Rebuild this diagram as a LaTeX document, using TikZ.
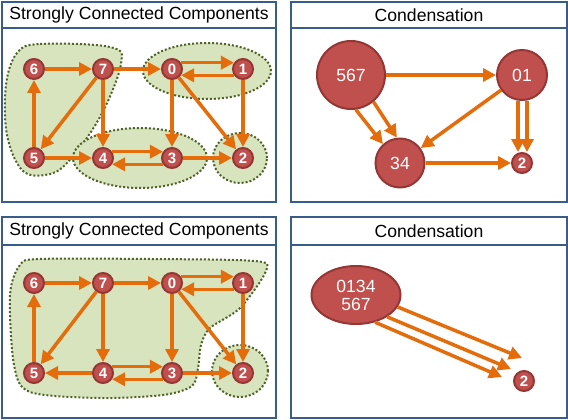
\documentclass[tikz,border=0pt]{standalone}
\usepackage{fontspec}
\setmainfont{Liberation Sans}
\usetikzlibrary{arrows.meta,calc,shapes.geometric}
\definecolor{framebl}{HTML}{385D8A}
\definecolor{nodered}{HTML}{C0504D}
\definecolor{nodeedge}{HTML}{943634}
\definecolor{arroworg}{HTML}{E46C0A}
\definecolor{hullgr}{HTML}{D7E4BD}
\definecolor{hulldot}{HTML}{4F6228}

\begin{document}
\begin{tikzpicture}[x=1pt, y=-1pt,
		frame/.style={draw=framebl, line width=1.5pt},
		titlebar/.style={rectangle, draw=framebl, line width=1.5pt, fill=white, inner sep=0pt, minimum height=26pt, font=\fontsize{17.6}{20}\selectfont},
		vert/.style={circle, draw=nodeedge, line width=2pt, fill=nodered, inner sep=0pt, minimum size=20pt, text=white, font=\fontsize{15}{15}\selectfont\bfseries},
		bigvert/.style={vert, font=\fontsize{17.6}{20}\selectfont},
		arrow/.style={-{Triangle[length=13pt, width=13pt]}, draw=arroworg, line width=3.5pt},
		hull/.style={fill=hullgr, draw=hulldot, line width=2pt, dash pattern=on 2pt off 2pt}]
		
		\useasboundingbox (0,0) rectangle (568,420);
		
		% top left: strongly connected components
		\draw[frame] (2,2) rectangle (276,202);
		\node[titlebar, minimum width=274pt] (title1) at (139,15) {Strongly Connected Components};
		
		\draw[hull] plot[smooth cycle, tension=0.6] coordinates {(17,53) (40,44) (110,47) (121,64) (100,117) (67,163) (45,175) (22,170) (7,135) (6,85)};
		\draw[hull] (207,71) ellipse [x radius=64pt, y radius=28pt];
		\draw[hull] (140,158) ellipse [x radius=67pt, y radius=30pt];
		\draw[hull] (240,158) ellipse [x radius=27pt, y radius=25pt];
		
		\node[vert] (a6) at (34,69) {6};
		\node[vert] (a7) at (103,69) {7};
		\node[vert] (a0) at (172,69) {0};
		\node[vert] (a1) at (243,69) {1};
		\node[vert] (a5) at (34,158) {5};
		\node[vert] (a4) at (103,158) {4};
		\node[vert] (a3) at (172,158) {3};
		\node[vert] (a2) at (243,158) {2};
		
		\draw[arrow] (a6) -- (a7);
		\draw[arrow] (a7) -- (a0);
		\draw[arrow] (a0.35) -- (a1.145);
		\draw[arrow] (a1.-145) -- (a0.-35);
		\draw[arrow] (a7) -- (a5);
		\draw[arrow] (a7) -- (a4);
		\draw[arrow] (a0) -- (a3);
		\draw[arrow] (a0) -- (a2);
		\draw[arrow] (a1) -- (a2);
		\draw[arrow] (a5) -- (a6);
		\draw[arrow] (a5) -- (a4);
		\draw[arrow] (a4.35) -- (a3.145);
		\draw[arrow] (a3.-145) -- (a4.-35);
		\draw[arrow] (a3) -- (a2);
		
		% top right: condensation
		\draw[frame] (291,2) rectangle (567,202);
		\node[titlebar, minimum width=276pt] (title2) at (429,15) {Condensation};
		
		\node[bigvert, minimum size=68pt] (b567) at (351,75) {567};
		\node[bigvert, minimum size=50pt] (b01) at (522,75) {01};
		\node[bigvert, minimum size=49pt] (b34) at (400,163) {34};
		\node[vert] (b2) at (522,163) {2};
		
		\draw[arrow] (b567) -- (b01);
		\draw[arrow] (b567.-82) -- (b34.132);
		\draw[arrow] (b567.-50) -- (b34.97);
		\draw[arrow] (b01) -- (b34);
		\draw[arrow] ([xshift=-4pt]b01.south) -- ([xshift=-4pt]b2.north);
		\draw[arrow] ([xshift=5pt]b01.south) -- ([xshift=5pt]b2.north);
		\draw[arrow] (b34) -- (b2);
		
		% bottom left: strongly connected components
		\draw[frame] (2,217) rectangle (276,418);
		\node[titlebar, minimum width=274pt, minimum height=28pt] (title3) at (139,231) {Strongly Connected Components};
		
		\draw[hull] plot[smooth cycle, tension=0.5] coordinates {(20,265) (40,259) (150,259) (255,261) (266,271) (240,308) (210,328) (201,345) (198,368) (192,386) (163,395) (100,398) (30,392) (14,365) (10,295)};
		\draw[hull] (240,371) ellipse [x radius=28pt, y radius=26pt];
		
		\node[vert] (c6) at (34,283) {6};
		\node[vert] (c7) at (103,283) {7};
		\node[vert] (c0) at (172,283) {0};
		\node[vert] (c1) at (243,283) {1};
		\node[vert] (c5) at (34,373) {5};
		\node[vert] (c4) at (103,373) {4};
		\node[vert] (c3) at (172,373) {3};
		\node[vert] (c2) at (243,373) {2};
		
		\draw[arrow] (c6) -- (c7);
		\draw[arrow] (c7) -- (c0);
		\draw[arrow] (c0.35) -- (c1.145);
		\draw[arrow] (c1.-145) -- (c0.-35);
		\draw[arrow] (c7) -- (c5);
		\draw[arrow] (c7) -- (c4);
		\draw[arrow] (c0) -- (c3);
		\draw[arrow] (c0) -- (c2);
		\draw[arrow] (c1) -- (c2);
		\draw[arrow] (c5) -- (c6);
		\draw[arrow] (c4) -- (c5);
		\draw[arrow] (c4.35) -- (c3.145);
		\draw[arrow] (c3.-145) -- (c4.-35);
		\draw[arrow] (c3) -- (c2);
		
		% bottom right: condensation
		\draw[frame] (291,217) rectangle (567,418);
		\node[titlebar, minimum width=276pt, minimum height=28pt] (title4) at (429,231) {Condensation};
		
		\node[bigvert, ellipse, minimum width=89pt, minimum height=58pt, align=center, font=\fontsize{17.6}{18}\selectfont] (d0134) at (356,295) {0134\\567};
		\node[vert] (d2) at (524,381) {2};
		
		\coordinate (d2a) at (522,358);
		\coordinate (d2b) at (511,369);
		\coordinate (d2c) at (502,377);
		\draw[arrow] (d0134.-16) -- (d2a);
		\draw[arrow] (d0134.-35) -- (d2b);
		\draw[arrow] (d0134.-55) -- (d2c);
		
	\end{tikzpicture}
\end{document}
